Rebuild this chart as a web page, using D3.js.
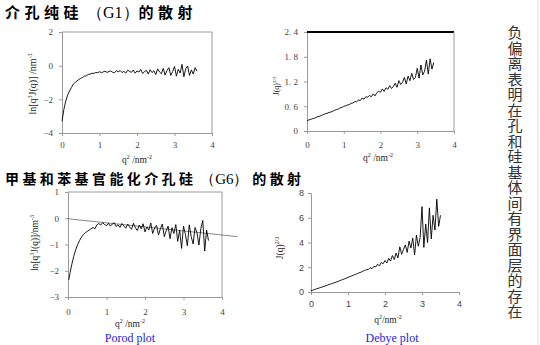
<!DOCTYPE html>
<html>
<head>
<meta charset="utf-8">
<script src="https://cdn.jsdelivr.net/npm/d3@7"></script>
<style>
  body { margin: 0; background: #fff; }
  svg { display: block; }
</style>
</head>
<body>
<script>
// ---- data ----
// G1 Porod plot: ln[q^3 J(q)] vs q^2
var g1PorodX = [0,0.05,0.1,0.15,0.2,0.25,0.3,0.35,0.4,0.45,0.5,0.55,0.6,0.65,0.7,0.75,0.8,0.85,0.9,0.95,
  1,1.05,1.1,1.15,1.2,1.25,1.3,1.35,1.4,1.45,1.5,1.55,1.6,1.65,1.7,1.75,1.8,1.85,1.9,1.95,
  2,2.05,2.1,2.15,2.2,2.25,2.3,2.35,2.4,2.45,2.5,2.55,2.6,2.65,2.7,2.75,2.8,2.85,2.9,2.95,
  3,3.05,3.1,3.15,3.2,3.25,3.3,3.35,3.4,3.45,3.5,3.55,3.6];
var g1PorodY = [-3.3,-2.6,-2.1,-1.75,-1.5,-1.3,-1.1,-1.0,-0.9,-0.82,-0.75,-0.7,-0.62,-0.6,-0.52,-0.5,-0.45,-0.46,-0.4,-0.42,
  -0.36,-0.41,-0.37,-0.33,-0.4,-0.35,-0.31,-0.39,-0.42,-0.3,-0.36,-0.29,-0.41,-0.34,-0.44,-0.27,-0.33,-0.4,-0.26,-0.45,
  -0.31,-0.38,-0.22,-0.47,-0.35,-0.28,-0.5,-0.24,-0.41,-0.3,-0.53,-0.19,-0.37,-0.48,-0.16,-0.56,-0.28,-0.12,-0.58,-0.35,
  -0.05,-0.62,-0.22,-0.44,0.08,-0.66,-0.18,-0.02,-0.58,-0.25,-0.5,-0.12,-0.33];

// G1 Debye plot: J(q)^(2/3) vs q^2
var g1DebyeX = [0,0.05,0.1,0.15,0.2,0.25,0.3,0.35,0.4,0.45,0.5,0.55,0.6,0.65,0.7,0.75,0.8,0.85,0.9,0.95,
  1,1.05,1.1,1.15,1.2,1.25,1.3,1.35,1.4,1.45,1.5,1.55,1.6,1.65,1.7,1.75,1.8,1.85,1.9,1.95,
  2,2.05,2.1,2.15,2.2,2.25,2.3,2.35,2.4,2.45,2.5,2.55,2.6,2.65,2.7,2.75,2.8,2.85,2.9,2.95,
  3,3.05,3.1,3.15,3.2,3.25,3.3,3.35,3.4,3.45];
var g1DebyeY = [0.25,0.27,0.28,0.3,0.31,0.33,0.35,0.36,0.38,0.4,0.42,0.43,0.45,0.46,0.48,0.5,0.52,0.53,0.56,0.57,
  0.6,0.61,0.63,0.64,0.67,0.68,0.71,0.71,0.75,0.74,0.8,0.77,0.83,0.82,0.86,0.83,0.9,0.85,0.93,0.96,
  0.94,1.02,0.96,1.05,1.01,1.1,1.03,1.08,1.16,1.06,1.22,1.13,1.18,1.3,1.14,1.33,1.22,1.4,1.25,1.3,
  1.52,1.28,1.6,1.36,1.45,1.72,1.38,1.75,1.5,1.66];

// G6 Porod plot
var g6PorodX = [0.02,0.05,0.1,0.15,0.2,0.25,0.3,0.35,0.4,0.45,0.5,0.55,0.6,0.65,0.7,0.75,0.8,0.85,0.9,0.95,
  1,1.05,1.1,1.15,1.2,1.25,1.3,1.35,1.4,1.45,1.5,1.55,1.6,1.65,1.7,1.75,1.8,1.85,1.9,1.95,
  2,2.05,2.1,2.15,2.2,2.25,2.3,2.35,2.4,2.45,2.5,2.55,2.6,2.65,2.7,2.75,2.8,2.85,2.9,2.95,
  3,3.05,3.1,3.15,3.2,3.25,3.3,3.35,3.4,3.45,3.5,3.55,3.6,3.65];
var g6PorodY = [-2.35,-2.1,-1.75,-1.45,-1.2,-1.0,-0.85,-0.72,-0.62,-0.55,-0.5,-0.45,-0.4,-0.35,-0.4,
  -0.25,-0.2,-0.26,-0.17,-0.24,-0.28,-0.19,-0.3,-0.22,-0.17,-0.31,-0.25,-0.35,-0.2,-0.29,
  -0.38,-0.22,-0.33,-0.42,-0.19,-0.36,-0.47,-0.26,-0.4,-0.21,-0.52,-0.33,-0.45,-0.18,-0.58,
  -0.37,-0.27,-0.64,-0.4,-0.22,-0.7,-0.48,-0.3,-0.78,-0.36,-0.58,-0.24,-0.88,-0.45,-1.15,
  -0.3,-0.62,-1.05,-0.25,-0.7,-0.98,-0.35,-0.55,-1.02,-0.4,-0.08,-1.25,-0.45,-0.85];
// straight fit line through the G6 Porod plateau
var g6FitX = [0, 4.4];
var g6FitY = [-0.02, -0.7];

// G6 Debye plot
var g6DebyeX = [0,0.05,0.1,0.15,0.2,0.25,0.3,0.35,0.4,0.45,0.5,0.55,0.6,0.65,0.7,0.75,0.8,0.85,0.9,0.95,
  1,1.05,1.1,1.15,1.2,1.25,1.3,1.35,1.4,1.45,1.5,1.55,1.6,1.65,1.7,1.75,1.8,1.85,1.9,1.95,
  2,2.05,2.1,2.15,2.2,2.25,2.3,2.35,2.4,2.45,2.5,2.55,2.6,2.65,2.7,2.75,2.8,2.85,2.9,2.95,
  3,3.05,3.1,3.15,3.2,3.25,3.3,3.35,3.4,3.45,3.5];
var g6DebyeY = [0.1,0.15,0.2,0.26,0.3,0.36,0.4,0.46,0.5,0.56,0.62,0.66,0.72,0.77,0.82,0.88,0.94,1.0,1.05,1.12,
  1.18,1.25,1.3,1.36,1.42,1.48,1.55,1.6,1.68,1.74,1.8,1.82,1.97,1.88,2.08,2.02,2.25,2.1,2.4,2.28,
  2.55,2.35,2.72,2.5,2.95,2.62,3.15,2.75,3.65,3.05,3.45,3.8,3.2,4.1,3.55,4.35,3.0,4.6,3.7,4.4,
  6.9,3.6,5.5,4.0,6.8,4.3,6.2,5.0,7.5,5.3,6.2];

// tick values / labels
var xTicks = [0, 1, 2, 3, 4];
var p1YTicks = [-4, -2, 0, 2];
var p2YTicks = [0, 0.6, 1.2, 1.8, 2.4];
var p2YLabels = ["0", "0. 6", "1. 2", "1. 8", "2. 4"];
var p3YTicks = [-3, -2, -1, 0, 1];
var p4YTicks = [0, 2, 4, 6, 8];

// titles split so the sample code can sit in a serif run
var title1 = ["介孔纯硅", " （G1）", "的散射"];
var title2 = ["甲基和苯基官能化介孔硅", " （G6） ", "的散射"];
var sideNote = "负偏离表明在孔和硅基体间有界面层的存在";

// ---- drawing ----
const svg = d3.select("body").append("svg")
    .attr("width", 540)
    .attr("height", 345);

const serif = "'Liberation Serif', 'DejaVu Serif', serif";
const sans = "'Liberation Sans', Arial, sans-serif";
const cjk = "'Noto Sans CJK SC', sans-serif";
const axisGrey = "#9a9a9a";

// one panel: scales, axes, frame, curve
function panel(p) {
    const x = d3.scaleLinear().domain([0, 4]).range(p.xr);
    const y = d3.scaleLinear().domain(p.yd).range(p.yr);
    const g = svg.append("g");

    const yAxis = d3.axisLeft(y).tickValues(p.yTicks).tickSize(3).tickPadding(p.yPad)
        .tickFormat((d, i) => p.yLabels ? p.yLabels[i] : d3.format("d")(d));
    const xAxis = d3.axisBottom(x).tickValues(xTicks).tickSize(3).tickPadding(p.xPad)
        .tickFormat(d3.format("d"));

    const gy = g.append("g").attr("transform", `translate(${p.xr[0]},0)`).call(yAxis);
    const gx = g.append("g").attr("transform", `translate(0,${p.yr[0]})`).call(xAxis);
    [gx, gy].forEach(a => {
        a.select(".domain").attr("stroke", axisGrey);
        a.selectAll(".tick line").attr("stroke", axisGrey);
        a.selectAll("text").attr("fill", "#444")
            .style("font-family", p.font).style("font-size", "9px");
    });

    // frame on top / right
    if (p.frame) {
        g.append("line").attr("x1", p.xr[0]).attr("x2", p.xr[1])
            .attr("y1", p.yr[1]).attr("y2", p.yr[1])
            .attr("stroke", p.topColor || axisGrey).attr("stroke-width", p.topWidth || 1);
        g.append("line").attr("x1", p.xr[1]).attr("x2", p.xr[1])
            .attr("y1", p.yr[0]).attr("y2", p.yr[1])
            .attr("stroke", axisGrey);
    }

    const line = d3.line().x((d, i) => x(p.xs[i])).y(d => y(d));
    if (p.fitX) {
        const fit = d3.line().x((d, i) => x(p.fitX[i])).y(d => y(d));
        g.append("path").attr("d", fit(p.fitY))
            .attr("fill", "none").attr("stroke", "#555").attr("stroke-width", 0.7);
    }
    g.append("path").attr("d", line(p.ys))
        .attr("fill", "none").attr("stroke", "#000").attr("stroke-width", 0.9)
        .attr("stroke-linejoin", "round");

    // axis titles
    const xt = g.append("text")
        .attr("x", p.xTitle[0]).attr("y", p.xTitle[1])
        .attr("text-anchor", "middle")
        .style("font-family", serif).style("font-size", "9.5px").attr("fill", "#222");
    xt.append("tspan").text("q");
    xt.append("tspan").attr("dy", -4).style("font-size", "6px").text("2");
    xt.append("tspan").attr("dy", 4).text(p.xGap ? " /nm" : "/nm");
    xt.append("tspan").attr("dy", -4).style("font-size", "6px").text("-2");

    const yt = g.append("text")
        .attr("transform", `translate(${p.yTitle[0]},${p.yTitle[1]}) rotate(-90)`)
        .attr("text-anchor", "middle")
        .style("font-family", serif).style("font-size", p.yFs + "px").attr("fill", "#222");
    p.yParts.forEach(s => {
        yt.append("tspan").attr("dy", s[1]).style("font-size", s[2] ? s[2] + "px" : null).text(s[0]);
    });
}

panel({
    xr: [62, 212], yr: [133, 32], yd: [-4, 2], yTicks: p1YTicks,
    xs: g1PorodX, ys: g1PorodY, frame: true, font: serif, yPad: 6, xPad: 6,
    xTitle: [137, 163], xGap: true, yTitle: [36, 84], yFs: 10,
    yParts: [["ln[q", 0], ["3", -4, 6], ["J(q)] /nm", 4], ["-3", -4, 6]]
});
panel({
    xr: [307, 454], yr: [131, 32], yd: [0, 2.4], yTicks: p2YTicks, yLabels: p2YLabels,
    xs: g1DebyeX, ys: g1DebyeY, frame: true, topColor: "#000", topWidth: 2,
    font: serif, yPad: 6, xPad: 8,
    xTitle: [378, 161], xGap: true, yTitle: [279, 86], yFs: 8,
    yParts: [["J(q)", 0], ["2/3", -3, 5]]
});
panel({
    xr: [68, 222], yr: [297, 192], yd: [-3, 1], yTicks: p3YTicks,
    xs: g6PorodX, ys: g6PorodY, fitX: g6FitX, fitY: g6FitY, frame: true, font: serif,
    yPad: 6, xPad: 9,
    xTitle: [130, 327], xGap: true, yTitle: [38, 243], yFs: 9.5,
    yParts: [["ln[q", 0], ["3", -4, 6], ["J(q)]/nm", 4], ["-3", -4, 6]]
});
panel({
    xr: [311, 459], yr: [292, 193], yd: [0, 8], yTicks: p4YTicks,
    xs: g6DebyeX, ys: g6DebyeY, frame: false, font: sans, yPad: 4, xPad: 6,
    xTitle: [388, 323], xGap: false, yTitle: [283, 248], yFs: 9.5,
    yParts: [["J(q)", 0], ["2/3", -4, 6]]
});

// section titles
function title(parts, y, size, spacing) {
    const t = svg.append("text").attr("x", 5).attr("y", y)
        .style("font-size", size + "px").attr("fill", "#000");
    t.append("tspan").style("font-family", cjk).style("font-weight", "bold")
        .style("letter-spacing", spacing + "px").text(parts[0]);
    t.append("tspan").style("font-family", serif).style("font-size", (size + 1) + "px")
        .text(parts[1]);
    t.append("tspan").style("font-family", cjk).style("font-weight", "bold")
        .style("letter-spacing", spacing + "px").text(parts[2]);
}
title(title1, 18, 15, 4.5);
title(title2, 184, 14, 3.4);

// plot names
svg.append("text").attr("x", 130).attr("y", 342).attr("text-anchor", "middle")
    .style("font-family", serif).style("font-size", "12px").attr("fill", "#2424d8").text("Porod plot");
svg.append("text").attr("x", 392).attr("y", 342).attr("text-anchor", "middle")
    .style("font-family", serif).style("font-size", "12px").attr("fill", "#2424d8").text("Debye plot");

// vertical note on the right, one text run
svg.append("text")
    .attr("x", 515)
    .attr("y", 25)
    .style("writing-mode", "vertical-rl")
    .style("font-family", cjk).style("font-size", "15px")
    .style("letter-spacing", "0.5px")
    .attr("fill", "#333")
    .text(sideNote);

// thin border at the right edge
svg.append("line").attr("x1", 538).attr("x2", 538).attr("y1", 0).attr("y2", 345)
    .attr("stroke", "#ddd");
</script>
</body>
</html>
